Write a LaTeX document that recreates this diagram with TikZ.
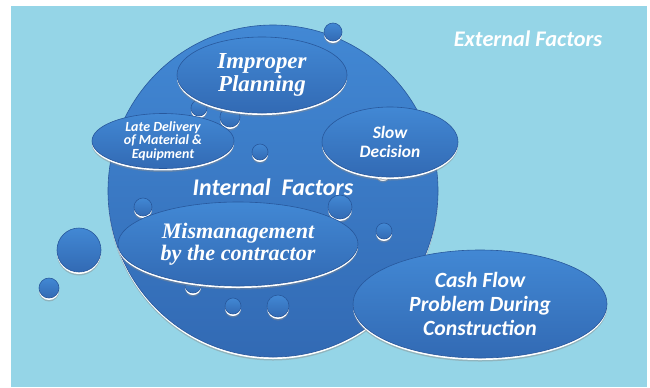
\documentclass[tikz,border=0pt]{standalone}
\usepackage{fontspec}
\setmainfont{Liberation Serif}
\setsansfont{Carlito}
\usetikzlibrary{shapes.geometric,shadows}
\definecolor{skybg}{RGB}{149,213,231}
\definecolor{blobtop}{RGB}{66,136,212}
\definecolor{blobbot}{RGB}{50,106,180}
\definecolor{blobedge}{RGB}{40,88,156}
\begin{document}
\begin{tikzpicture}[x=1bp,y=-1bp,inner sep=0pt,outer sep=0pt,
blob/.style={ellipse,draw=blobedge,line width=0.6bp,top color=blobtop,bottom color=blobbot,text=white,align=center,
  general shadow={fill=black!45,opacity=0.45,shadow xshift=0bp,shadow yshift=-3.5bp},
  general shadow={fill=white,shadow xshift=0bp,shadow yshift=-2bp}},
bubble/.style={blob,circle,minimum size={2*#1*1bp}},
sanslabel/.style={text=white,font=\sffamily\bfseries\itshape\fontsize{#1}{#1}\selectfont}]

\useasboundingbox (0,0) rectangle (650,387);
\fill[white] (0,0) rectangle (650,387);
\fill[skybg] (11,6) rectangle (647,387);

\draw (273,191) node[blob,minimum width=330bp,minimum height=332bp] (internal) {};
\foreach \bx/\by/\br [count=\i] in {199/108/8,230/117/10,260/152/8,383/172/7,143/207/9,340/207/12,384/231/8,193/285/8,233/306/8,278/306/11}
  \draw (\bx,\by) node[bubble=\br] (inbub\i) {};
\draw (79,250) node[bubble=22] (outbub1) {};
\draw (49,288) node[bubble=10] (outbub2) {};

\draw (262,75) node[blob,minimum width=170bp,minimum height=76bp,font=\rmfamily\bfseries\itshape\fontsize{23}{23}\selectfont] (planning) {Improper\\Planning};
\draw (333,32) node[bubble=9] (topbub) {};
\draw (163,141) node[blob,minimum width=142bp,minimum height=48bp,font=\sffamily\bfseries\itshape\fontsize{14}{13.5}\selectfont] (delivery) {Late Delivery\\of Material \&\\Equipment};
\draw (390,142) node[blob,minimum width=136bp,minimum height=70bp,font=\sffamily\bfseries\itshape\fontsize{17.5}{18.5}\selectfont] (decision) {Slow\\Decision};
\draw (238,244) node[blob,minimum width=240bp,minimum height=84bp,font=\rmfamily\bfseries\itshape\fontsize{22.2}{22.5}\selectfont] (mismanage) {Mismanagement\\by the contractor};
\draw (480,304) node[blob,minimum width=254bp,minimum height=108bp,font=\sffamily\bfseries\itshape\fontsize{21.8}{24}\selectfont] (cashflow) {Cash Flow\\Problem During\\Construction};

\draw (273,187) node[sanslabel=24] (intlabel) {Internal\ \ Factors};
\draw (528,39) node[sanslabel=22.4] (extlabel) {External Factors};
\end{tikzpicture}
\end{document}
